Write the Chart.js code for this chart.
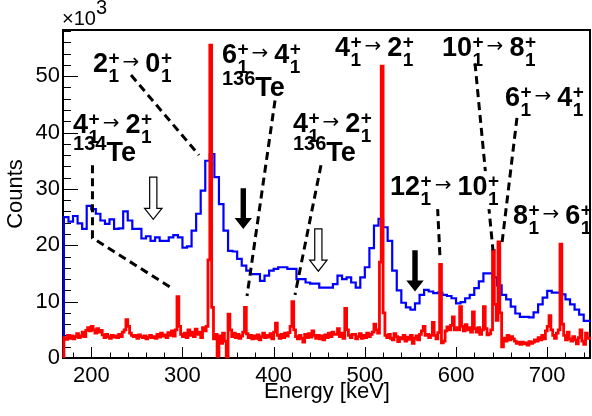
<!DOCTYPE html>
<html>
<head>
<meta charset="utf-8">
<script src="https://cdn.jsdelivr.net/npm/chart.js@4.4.1/dist/chart.umd.min.js"></script>
<style>
  html, body { margin: 0; padding: 0; background: #fff; }
  canvas { display: block; }
</style>
</head>
<body>
<canvas id="spectrum" width="592" height="416"></canvas>
<script>
// counts are in units of 10^3 (axis multiplier)
const energyMin = 169;
const energyMax = 748;
const countsMax = 58.2;

const xTicks = [200, 300, 400, 500, 600, 700];
const yTicks = [0, 10, 20, 30, 40, 50];

// blue spectrum, 5 keV bins from 170 keV
const blueStart = 170;
const blueBin = 5;
const blueCounts = [
  24.6, 25.0, 24.2, 25.2, 23.9, 22.9, 27.0, 26.4, 25.6, 24.4,   // 170
  23.8, 24.6, 22.9, 23.0, 26.0, 24.4, 22.9, 22.9, 21.2, 21.6,   // 220
  20.8, 21.4, 20.8, 20.8, 21.4, 21.8, 21.4, 19.6, 19.8, 22.6,   // 270
  25.6, 29.7, 35.0, 36.2, 32.1, 27.3, 22.6, 19.0, 18.9, 17.6,   // 320
  16.4, 15.5, 14.9, 14.9, 13.7, 14.6, 15.5, 15.8, 16.1, 16.1,   // 370
  15.8, 15.8, 14.0, 14.0, 13.4, 13.2, 13.2, 12.5, 12.5, 12.5,   // 420
  13.1, 14.6, 14.0, 14.3, 13.4, 12.5, 14.3, 16.1, 19.5, 23.5,   // 470
  24.7, 23.2, 20.8, 15.5, 12.0, 9.8, 9.0, 8.6, 9.7, 11.2,       // 520
  12.1, 11.8, 11.5, 11.6, 11.2, 11.0, 10.6, 9.7, 9.9, 10.6,     // 570
  11.2, 12.4, 13.6, 15.0, 15.0, 14.3, 12.9, 11.2, 10.4, 9.1,    // 620
  7.9, 7.3, 7.3, 7.2, 8.1, 9.5, 10.7, 11.9, 11.6, 11.6,         // 670
  11.3, 10.4, 9.5, 8.6, 7.7, 6.6                                // 720
];

// red spectrum, 2 keV bins from 170 keV
const redStart = 170;
const redBin = 2;
const redCounts = [
  3.2, 3.6, 3.3, 4.0, 3.5, 3.9, 3.4, 3.8, 4.3, 3.6,   // 170
  3.9, 4.6, 3.8, 4.9, 5.4, 4.8, 5.6, 5.0, 4.4, 5.2,   // 190
  4.6, 4.9, 4.1, 3.6, 4.2, 3.8, 3.5, 4.0, 3.7, 3.9,   // 210
  3.6, 4.2, 3.8, 4.6, 5.0, 6.8, 5.6, 4.4, 4.0, 3.8,   // 230
  4.0, 3.5, 4.1, 3.8, 3.6, 3.9, 3.4, 3.7, 4.0, 3.6,   // 250
  3.8, 3.5, 4.2, 3.7, 4.4, 3.9, 4.1, 3.6, 4.5, 4.0,   // 270
  4.8, 3.9, 5.0, 10.9, 5.6, 4.2, 3.8, 4.4, 3.6, 5.0,  // 290
  4.0, 4.6, 3.8, 5.1, 4.2, 4.6, 3.6, 5.4, 4.8, 5.6,   // 310
  17.4, 55.5, 9.0, 3.4, 4.2, 0.3, 3.9, 2.6, 4.4, 3.0, // 330
  0.2, 7.8, 5.0, 3.8, 4.4, 3.6, 4.2, 3.5, 3.9, 4.6,   // 350
  9.0, 4.3, 3.6, 4.0, 3.4, 3.9, 3.5, 4.1, 3.2, 3.8,   // 370
  4.4, 3.6, 4.0, 3.7, 4.3, 3.4, 4.6, 6.2, 4.0, 3.5,   // 390
  4.2, 3.6, 4.4, 3.9, 4.5, 5.6, 10.0, 5.0, 3.8, 3.4,  // 410
  4.0, 3.5, 2.8, 4.2, 3.6, 4.3, 3.7, 4.8, 4.0, 3.5,   // 430
  4.0, 3.4, 3.9, 3.2, 4.1, 3.6, 4.4, 3.8, 4.6, 4.2,   // 450
  4.2, 5.2, 3.8, 4.4, 3.5, 8.8, 5.0, 4.0, 3.6, 4.2,   // 470
  4.2, 3.4, 3.8, 4.3, 3.5, 4.0, 3.6, 4.4, 3.8, 4.2,   // 490
  4.6, 6.0, 5.0, 4.4, 17.0, 51.8, 8.0, 4.0, 3.6, 4.2, // 510
  3.5, 3.2, 4.3, 3.8, 2.9, 3.6, 3.4, 4.0, 3.0, 3.7,   // 530
  3.3, 4.0, 2.6, 3.5, 3.9, 3.2, 4.2, 4.8, 5.6, 4.0,   // 550
  4.2, 3.6, 4.0, 6.3, 4.0, 3.4, 4.5, 16.6, 2.7, 3.0,  // 570
  4.8, 5.5, 5.0, 5.8, 7.3, 5.0, 5.4, 5.0, 9.1, 5.6,   // 590
  4.8, 5.9, 5.0, 5.4, 4.6, 8.2, 5.2, 4.6, 5.4, 4.2,   // 610
  5.0, 9.1, 5.2, 4.1, 4.3, 5.0, 19.1, 9.5, 6.7, 20.6, // 630
  8.0, 2.0, 3.5, 3.0, 4.0, 3.2, 3.8, 3.4, 3.0, 2.6,   // 650
  2.8, 2.4, 2.8, 2.5, 2.7, 2.3, 2.9, 2.6, 2.8, 3.2,   // 670
  3.0, 3.6, 3.2, 4.0, 3.4, 4.8, 5.6, 7.5, 5.0, 4.0,   // 690
  3.5, 4.4, 5.0, 20.2, 6.0, 4.0, 3.2, 4.6, 3.4, 3.0,  // 710
  3.8, 3.2, 2.5, 3.6, 5.0, 3.0, 2.4, 4.4, 3.5         // 730
];

// annotations, placed in data units (keV, 10^3 counts)
const dashLines = [
  [[243.6, 50.2], [318.1, 36.0]],
  [[201.3, 34.2], [201.3, 21.3], [286.3, 12.6]],
  [[401.5, 45.7], [370.8, 11.0]],
  [[451.9, 34.2], [423.4, 11.2]],
  [[579.1, 28.9], [582.4, 17.9]],
  [[620.8, 52.3], [640.5, 19.1]],
  [[666.8, 42.6], [650.4, 20.4]]
];
const transitions = [
  { e: 201.9, v: 50.7, from: '2', to: '0' },
  { e: 343.3, v: 52.3, from: '6', to: '4' },
  { e: 467.2, v: 53.5, from: '4', to: '2' },
  { e: 584.6, v: 53.5, from: '10', to: '8' },
  { e: 653.6, v: 44.7, from: '6', to: '4' },
  { e: 180.0, v: 39.9, from: '4', to: '2' },
  { e: 421.2, v: 40.1, from: '4', to: '2' },
  { e: 527.6, v: 28.9, from: '12', to: '10', box: true },
  { e: 662.4, v: 23.8, from: '8', to: '6' }
];
const isotopes = [
  { e: 343.3, v: 46.5, mass: '136' },
  { e: 180.0, v: 34.9, mass: '134' },
  { e: 421.2, v: 34.9, mass: '136' }
];
const arrows = [
  { e: 268.0, top: 32.1, tip: 24.6, filled: false },
  { e: 449.0, top: 22.9, tip: 15.4, filled: false },
  { e: 366.7, top: 30.1, tip: 22.9, filled: true },
  { e: 555.0, top: 19.1, tip: 11.8, filled: true }
];

const FONT = '"Liberation Sans", Arial, Helvetica, sans-serif';

const histPoints = (start, width, counts) => {
  const pts = [{ x: start, y: 0 }];
  counts.forEach((c, i) => pts.push({ x: start + i * width, y: c }));
  pts.push({ x: start + counts.length * width, y: counts[counts.length - 1] });
  return pts;
};

// one level: big spin, superscript +, subscript 1
const drawLevel = (ctx, x, y, spin, dry) => {
  ctx.font = 'bold 27px ' + FONT;
  if (!dry) ctx.fillText(spin, x, y);
  x += ctx.measureText(spin).width;
  ctx.font = 'bold 19px ' + FONT;
  if (!dry) {
    ctx.fillText('+', x + 0.5, y - 8);
    ctx.fillText('1', x + 0.5, y + 10);
  }
  return x + Math.max(ctx.measureText('+').width, ctx.measureText('1').width) + 0.5;
};

const drawTransition = (ctx, x, y, t, dry) => {
  let cx = drawLevel(ctx, x, y, t.from, dry) + 3;
  ctx.font = '20px "DejaVu Sans", sans-serif';
  if (!dry) ctx.fillText('\u2192', cx, y - 4);
  cx += ctx.measureText('\u2192').width + 6;
  return drawLevel(ctx, cx, y, t.to, dry);
};

const drawIsotope = (ctx, x, y, mass) => {
  ctx.font = 'bold 20px ' + FONT;
  ctx.fillText(mass, x, y - 11);
  x += ctx.measureText(mass).width;
  ctx.font = 'bold 27px ' + FONT;
  ctx.fillText('Te', x, y);
};

const drawArrow = (ctx, px, top, tip, filled) => {
  const shaft = filled ? 2.7 : 3.6;
  const head = 8.7;
  const hh = 11;
  ctx.beginPath();
  ctx.moveTo(px - shaft, top);
  ctx.lineTo(px + shaft, top);
  ctx.lineTo(px + shaft, tip - hh);
  ctx.lineTo(px + head, tip - hh);
  ctx.lineTo(px, tip);
  ctx.lineTo(px - head, tip - hh);
  ctx.lineTo(px - shaft, tip - hh);
  ctx.closePath();
  if (filled) {
    ctx.fillStyle = '#000';
    ctx.fill();
  } else {
    ctx.fillStyle = '#fff';
    ctx.fill();
    ctx.lineWidth = 1.2;
    ctx.strokeStyle = '#000';
    ctx.stroke();
  }
};

// frame, inward ticks and the x10^3 multiplier
const frame = {
  id: 'frame',
  beforeDatasetsDraw(chart) {
    const { ctx, chartArea: a, scales: { x, y } } = chart;
    ctx.save();
    ctx.strokeStyle = '#000';
    ctx.lineWidth = 1;
    ctx.beginPath();
    for (let e = 180; e <= energyMax; e += 20) {
      const px = Math.round(x.getPixelForValue(e)) + 0.5;
      const len = e % 100 === 0 ? 11 : 5.5;
      ctx.moveTo(px, a.bottom);
      ctx.lineTo(px, a.bottom - len);
    }
    for (let v = 0; v <= countsMax; v += 2) {
      const py = Math.round(y.getPixelForValue(v)) + 0.5;
      const len = v % 10 === 0 ? 15 : 8;
      ctx.moveTo(a.left, py);
      ctx.lineTo(a.left + len, py);
    }
    ctx.stroke();
    ctx.lineWidth = 2;
    ctx.strokeRect(a.left, a.top, a.right - a.left - 1, a.bottom - a.top);
    ctx.fillStyle = '#000';
    ctx.font = '20px ' + FONT;
    ctx.textBaseline = 'alphabetic';
    ctx.fillText('\u00d710', a.left - 1, 25);
    ctx.fillText('3', a.left - 1 + ctx.measureText('\u00d710').width, 14);
    ctx.restore();
  }
};

const labels = {
  id: 'labels',
  afterDatasetsDraw(chart) {
    const { ctx, scales: { x, y } } = chart;
    ctx.save();
    ctx.strokeStyle = '#000';
    ctx.lineWidth = 3;
    ctx.setLineDash([8, 5]);
    dashLines.forEach(line => {
      ctx.beginPath();
      line.forEach(([e, v], i) => {
        const px = x.getPixelForValue(e), py = y.getPixelForValue(v);
        if (i === 0) ctx.moveTo(px, py); else ctx.lineTo(px, py);
      });
      ctx.stroke();
    });
    ctx.setLineDash([]);

    arrows.forEach(a => drawArrow(ctx, x.getPixelForValue(a.e), y.getPixelForValue(a.top), y.getPixelForValue(a.tip), a.filled));

    ctx.textBaseline = 'alphabetic';
    transitions.forEach(t => {
      const px = x.getPixelForValue(t.e), py = y.getPixelForValue(t.v);
      if (t.box) {
        const end = drawTransition(ctx, px, py, t, true);
        ctx.fillStyle = '#fff';
        ctx.fillRect(px - 2, py - 24, end - px + 4, 38);
      }
      ctx.fillStyle = '#000';
      drawTransition(ctx, px, py, t, false);
    });
    isotopes.forEach(t => {
      ctx.fillStyle = '#000';
      drawIsotope(ctx, x.getPixelForValue(t.e), y.getPixelForValue(t.v), t.mass);
    });
    ctx.restore();
  }
};

new Chart(document.getElementById('spectrum'), {
  type: 'line',
  data: {
    datasets: [
      {
        label: 'red',
        data: histPoints(redStart, redBin, redCounts),
        borderColor: '#ff0000',
        borderWidth: 2.8,
        stepped: 'after',
        pointRadius: 0,
        clip: { left: 3, top: 0, right: 0, bottom: 3 }
      },
      {
        label: 'blue',
        data: histPoints(blueStart, blueBin, blueCounts),
        borderColor: '#0000ff',
        borderWidth: 2.2,
        stepped: 'after',
        pointRadius: 0,
        clip: { left: 3, top: 0, right: 0, bottom: 3 }
      }
    ]
  },
  options: {
    responsive: false,
    animation: false,
    parsing: false,
    layout: { padding: { left: 0, right: 1, top: 30, bottom: 0 } },
    plugins: { legend: { display: false }, tooltip: { enabled: false } },
    scales: {
      x: {
        type: 'linear',
        min: energyMin,
        max: energyMax,
        afterFit: s => { s.height = 58; },
        afterBuildTicks: s => { s.ticks = xTicks.map(v => ({ value: v })); },
        grid: { display: false, drawTicks: false },
        border: { display: false },
        ticks: { color: '#000', font: { family: FONT, size: 22 }, padding: 5, maxRotation: 0, autoSkip: false },
        title: { display: true, text: 'Energy [keV]', color: '#000', font: { family: FONT, size: 22 }, padding: { top: 0, bottom: 11 } }
      },
      y: {
        type: 'linear',
        min: 0,
        max: countsMax,
        afterFit: s => { s.width = 63; },
        afterBuildTicks: s => { s.ticks = yTicks.map(v => ({ value: v })); },
        grid: { display: false, drawTicks: false },
        border: { display: false },
        ticks: { color: '#000', font: { family: FONT, size: 22 }, padding: 3 },
        title: { display: true, text: 'Counts', color: '#000', font: { family: FONT, size: 22 }, padding: { top: 3, bottom: 0 } }
      }
    }
  },
  plugins: [frame, labels]
});
</script>
</body>
</html>
